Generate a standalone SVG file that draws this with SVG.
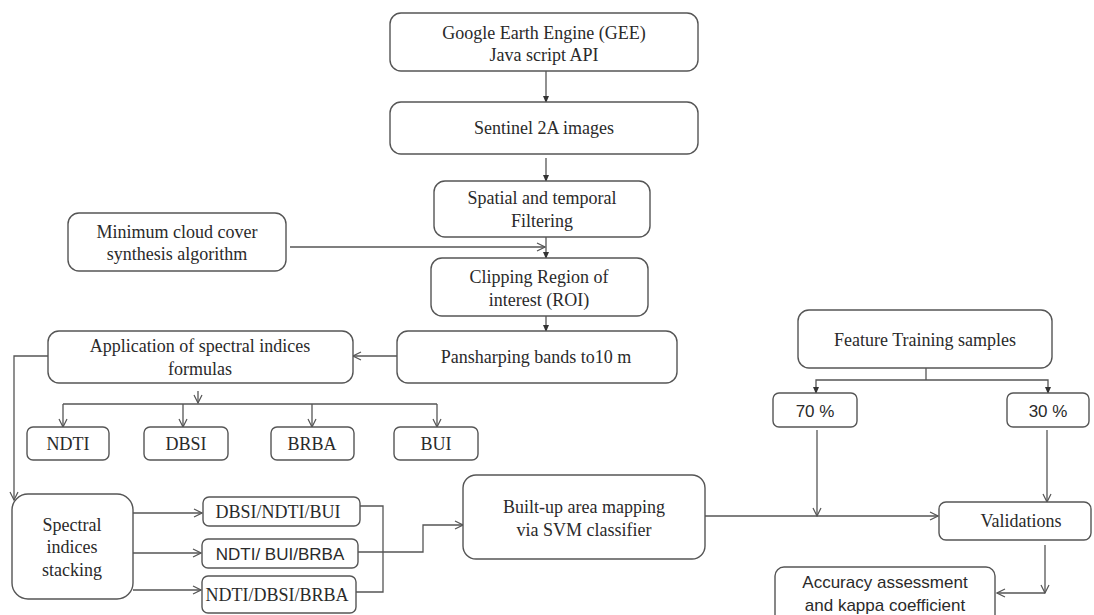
<svg xmlns="http://www.w3.org/2000/svg" width="1094" height="615" viewBox="0 0 1094 615">
<defs>
<style>
.box{fill:#fff;stroke:#555;stroke-width:1.4}
.t{font-family:"Liberation Serif","Times New Roman",serif;font-size:18px;fill:#2a2a2a;text-anchor:middle}
.s{font-family:"Liberation Sans",Arial,sans-serif;font-size:17px;fill:#2a2a2a;text-anchor:middle}
.c{fill:none;stroke:#555;stroke-width:1.3}
.f{marker-end:url(#fa)}
.o{marker-end:url(#oa)}
</style>
<marker id="fa" viewBox="0 0 8 8" refX="7" refY="4" markerWidth="7" markerHeight="7" markerUnits="userSpaceOnUse" orient="auto">
<path d="M0,0.5 L8,4 L0,7.5 Z" fill="#333"/>
</marker>
<marker id="oa" viewBox="0 0 10 10" refX="9" refY="5" markerWidth="10" markerHeight="10" markerUnits="userSpaceOnUse" orient="auto">
<path d="M1,1 L9,5 L1,9" fill="none" stroke="#555" stroke-width="1.2"/>
</marker>
</defs>
<rect width="1094" height="615" fill="#fff"/>

<g id="connectors">
<line class="c f" x1="546" y1="71" x2="546" y2="102"/>
<line class="c f" x1="546" y1="158" x2="546" y2="181"/>
<line class="c f" x1="546" y1="237" x2="546" y2="258"/>
<line class="c o" x1="290" y1="247" x2="545" y2="247"/>
<line class="c f" x1="546" y1="316" x2="546" y2="331"/>
<line class="c o" x1="397" y1="356" x2="353" y2="356"/>
<path class="c o" d="M48,356 H14 V500"/>
<line class="c o" x1="198" y1="391" x2="198" y2="403"/>
<line class="c" x1="63" y1="404" x2="437" y2="404"/>
<line class="c o" x1="63" y1="404" x2="63" y2="427"/>
<line class="c o" x1="183" y1="404" x2="183" y2="427"/>
<line class="c o" x1="312" y1="404" x2="312" y2="427"/>
<line class="c o" x1="437" y1="404" x2="437" y2="427"/>
<line class="c o" x1="133" y1="513" x2="202" y2="513"/>
<line class="c o" x1="133" y1="553" x2="201" y2="553"/>
<line class="c o" x1="133" y1="590" x2="201" y2="590"/>
<path class="c" d="M360,506 H383 V592 H356"/>
<path class="c o" d="M358,552 H423 V525 H463"/>
<line class="c o" x1="705" y1="516" x2="938" y2="516"/>
<line class="c o" x1="817" y1="430" x2="817" y2="516"/>
<line class="c" x1="926" y1="368" x2="926" y2="380"/>
<path class="c f" d="M926,380 H816 V393"/>
<path class="c f" d="M926,380 H1048 V393"/>
<line class="c o" x1="1047" y1="430" x2="1047" y2="502"/>
<line class="c o" x1="1045" y1="545" x2="1045" y2="593"/>
<line class="c o" x1="1045" y1="593" x2="997" y2="593"/>
</g>

<g id="gee"><rect class="box" x="390" y="13" width="308" height="58" rx="11"/>
<text class="t" x="544" y="39">Google Earth Engine (GEE)</text>
<text class="t" x="544" y="61">Java script API</text></g>

<g id="sentinel"><rect class="box" x="390" y="102" width="308" height="52" rx="11"/>
<text class="t" x="544" y="134">Sentinel 2A images</text></g>

<g id="spatial"><rect class="box" x="434" y="181" width="216" height="56" rx="11"/>
<text class="t" x="542" y="204">Spatial and temporal</text>
<text class="t" x="542" y="227">Filtering</text></g>

<g id="mincloud"><rect class="box" x="68" y="213" width="218" height="58" rx="11"/>
<text class="t" x="177" y="238">Minimum cloud cover</text>
<text class="t" x="177" y="260">synthesis algorithm</text></g>

<g id="clipping"><rect class="box" x="431" y="258" width="217" height="58" rx="11"/>
<text class="t" x="539" y="283">Clipping Region of</text>
<text class="t" x="539" y="306">interest (ROI)</text></g>

<g id="pansharping"><rect class="box" x="397" y="331" width="280" height="52" rx="11"/>
<text class="t" x="536" y="363">Pansharping bands to10 m</text></g>

<g id="application"><rect class="box" x="48" y="331" width="305" height="52" rx="11"/>
<text class="t" x="200" y="352">Application of spectral indices</text>
<text class="t" x="200" y="375">formulas</text></g>

<g id="ndti"><rect class="box" x="27" y="427" width="82" height="33" rx="6"/>
<text class="t" x="68" y="450">NDTI</text></g>
<g id="dbsi"><rect class="box" x="144" y="427" width="84" height="33" rx="6"/>
<text class="t" x="186" y="450">DBSI</text></g>
<g id="brba"><rect class="box" x="271" y="427" width="83" height="33" rx="6"/>
<text class="t" x="312" y="450">BRBA</text></g>
<g id="bui"><rect class="box" x="394" y="427" width="84" height="33" rx="6"/>
<text class="t" x="436" y="450">BUI</text></g>

<g id="stacking"><rect class="box" x="12" y="494" width="121" height="105" rx="16"/>
<text class="t" x="72" y="531">Spectral</text>
<text class="t" x="72" y="553">indices</text>
<text class="t" x="72" y="576">stacking</text></g>

<g id="stack1"><rect class="box" x="203" y="497" width="157" height="29" rx="6"/>
<text class="t" x="278" y="518">DBSI/NDTI/BUI</text></g>
<g id="stack2"><rect class="box" x="202" y="539" width="156" height="29" rx="6"/>
<text class="s" x="280" y="560" font-size="16">NDTI/ BUI/BRBA</text></g>
<g id="stack3"><rect class="box" x="202" y="576" width="154" height="37" rx="6"/>
<text class="t" x="277" y="601" font-size="16">NDTI/DBSI/BRBA</text></g>

<g id="builtup"><rect class="box" x="463" y="475" width="242" height="84" rx="13"/>
<text class="t" x="584" y="513">Built-up area mapping</text>
<text class="t" x="584" y="536">via SVM classifier</text></g>

<g id="feature"><rect class="box" x="798" y="310" width="254" height="58" rx="11"/>
<text class="t" x="925" y="346">Feature Training samples</text></g>

<g id="p70"><rect class="box" x="773" y="393" width="84" height="34" rx="6"/>
<text class="s" x="815" y="417">70 %</text></g>
<g id="p30"><rect class="box" x="1007" y="393" width="82" height="34" rx="6"/>
<text class="s" x="1048" y="417">30 %</text></g>

<g id="validations"><rect class="box" x="939" y="502" width="152" height="38" rx="7"/>
<text class="t" x="1021" y="527">Validations</text></g>

<g id="accuracy"><rect class="box" x="775" y="567" width="220" height="60" rx="9"/>
<text class="s" x="885" y="588" font-size="18">Accuracy assessment</text>
<text class="s" x="885" y="611" font-size="18">and kappa coefficient</text></g>
</svg>
